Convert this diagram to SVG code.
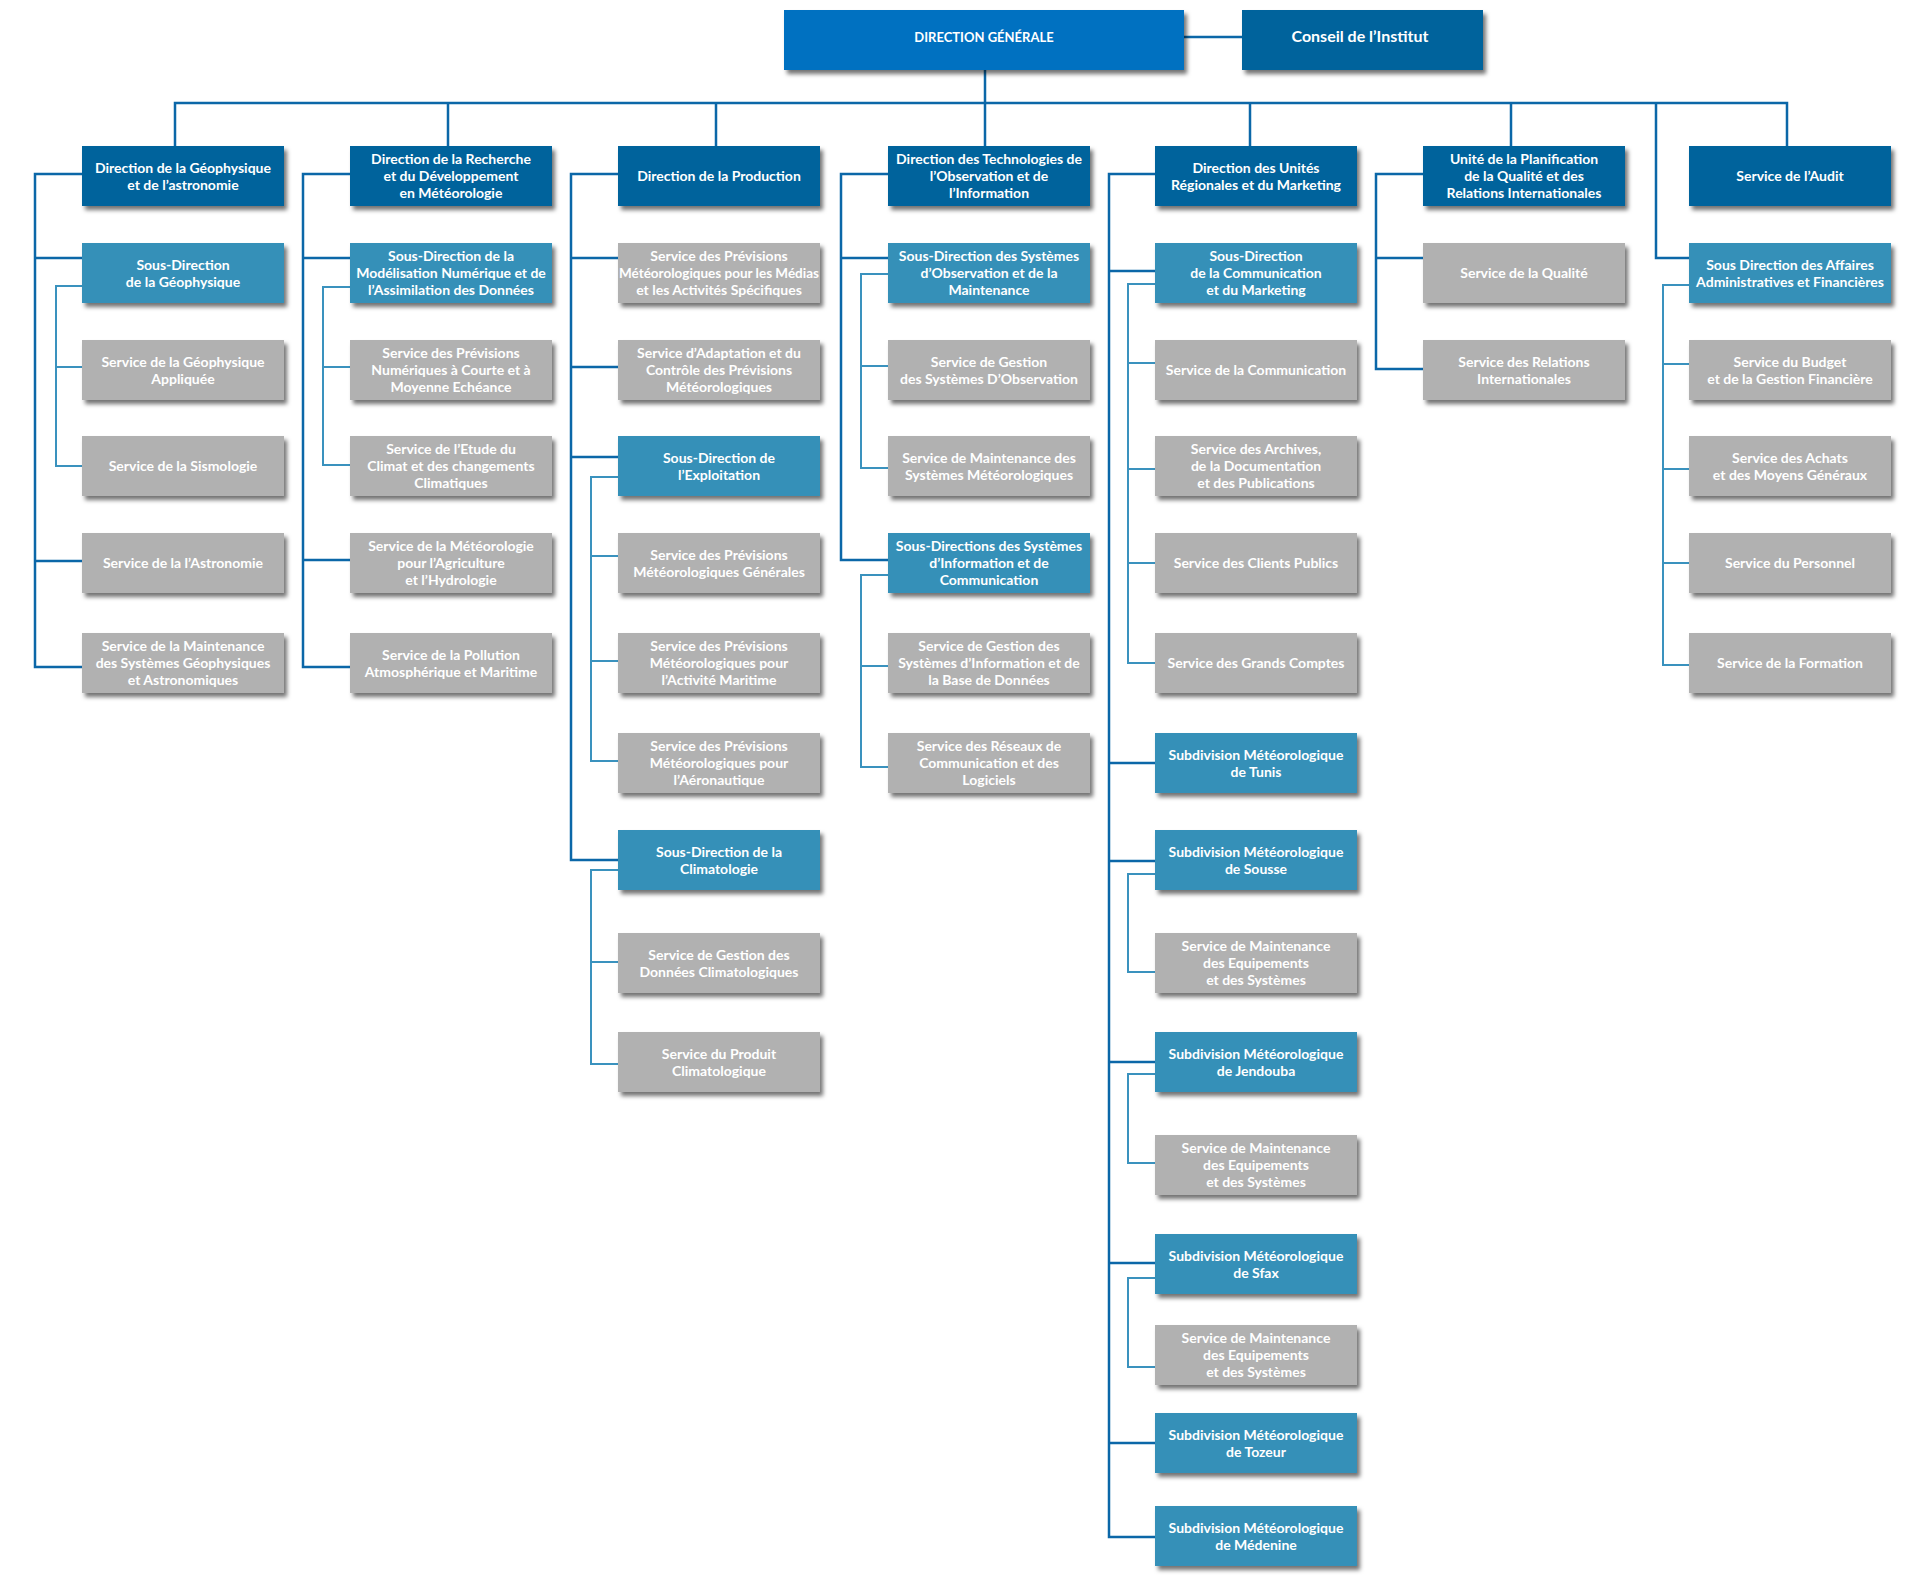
<svg xmlns="http://www.w3.org/2000/svg" width="1920" height="1594" viewBox="0 0 1920 1594">
<defs>
<filter id="sh" x="-10%" y="-20%" width="130%" height="160%">
<feDropShadow dx="3" dy="4" stdDeviation="2" flood-color="#000" flood-opacity="0.55"/>
</filter>
<style>
rect{filter:url(#sh)}
.dg rect{fill:#0071c1}
.d rect{fill:#00639c}
.s rect{fill:#3590b8}
.g rect{fill:#b1b1b1}
text{font-family:Lato,"Open Sans","Liberation Sans",sans-serif;font-weight:700;font-size:14px;fill:#fff;text-anchor:middle}
.m{stroke:#0b67a8;stroke-width:2.5;fill:none}
.b{stroke:#3a92be;stroke-width:2;fill:none}
</style>
</defs>
<rect width="1920" height="1594" fill="#fff" style="filter:none"/>
<g id="connectors">
<path class="m" d="M175,146 V103 H1787 V146 M448,103 V146 M716,103 V146 M985,70 V146 M1250,103 V146 M1511,103 V146 M1184,37 H1242 M1656,103 V258 H1689"/>
<path class="m" d="M82,174 H35 V667 H82 M35,258 H82 M35,561 H82"/>
<path class="b" d="M82,286 H56 V466 H82 M56,367 H82"/>
<path class="m" d="M350,174 H303 V667 H350 M303,258 H350 M303,560 H350"/>
<path class="b" d="M350,287 H323 V465 H350 M323,367 H350"/>
<path class="m" d="M618,174 H571 V860 H618 M571,258 H618 M571,367 H618 M571,457 H618"/>
<path class="b" d="M618,477 H591 V761 H618 M591,556 H618 M591,661 H618"/>
<path class="b" d="M618,870 H591 V1064 H618 M591,962 H618"/>
<path class="m" d="M888,174 H841 V560 H888 M841,258 H888"/>
<path class="b" d="M888,274 H861 V468 H888 M861,366 H888"/>
<path class="b" d="M888,575 H861 V767 H888 M861,666 H888"/>
<path class="m" d="M1155,174 H1109 V1537 H1155 M1109,271 H1155 M1109,763 H1155 M1109,861 H1155 M1109,1062 H1155 M1109,1263 H1155 M1109,1443 H1155"/>
<path class="b" d="M1155,284 H1128 V663 H1155 M1128,363 H1155 M1128,469 H1155 M1128,563 H1155"/>
<path class="b" d="M1155,874 H1128 V972 H1155"/>
<path class="b" d="M1155,1074 H1128 V1163 H1155"/>
<path class="b" d="M1155,1278 H1128 V1367 H1155"/>
<path class="m" d="M1423,174 H1376 V369 H1423 M1376,258 H1423"/>
<path class="b" d="M1689,285 H1663 V665 H1689 M1663,364 H1689 M1663,469 H1689 M1663,563 H1689"/>
</g>

<g id="n-dg" class="dg"><rect x="784" y="10" width="400" height="60"/><text x="984" y="42" style="font-size:13px">DIRECTION GÉNÉRALE</text></g>
<g id="n-conseil" class="d"><rect x="1242" y="10" width="241" height="60"/><text x="1360" y="42" style="font-size:16px">Conseil de l’Institut</text></g>

<!-- Column 1 -->
<g id="n-c1-0" class="d"><rect x="82" y="146" width="202" height="60"/><text x="183" y="172.5">Direction de la Géophysique</text><text x="183" y="189.5">et de l’astronomie</text></g>
<g id="n-c1-1" class="s"><rect x="82" y="243" width="202" height="60"/><text x="183" y="269.5">Sous-Direction</text><text x="183" y="286.5">de la Géophysique</text></g>
<g id="n-c1-2" class="g"><rect x="82" y="340" width="202" height="60"/><text x="183" y="366.5">Service de la Géophysique</text><text x="183" y="383.5">Appliquée</text></g>
<g id="n-c1-3" class="g"><rect x="82" y="436" width="202" height="60"/><text x="183" y="471">Service de la Sismologie</text></g>
<g id="n-c1-4" class="g"><rect x="82" y="533" width="202" height="60"/><text x="183" y="568">Service de la l’Astronomie</text></g>
<g id="n-c1-5" class="g"><rect x="82" y="633" width="202" height="60"/><text x="183" y="651">Service de la Maintenance</text><text x="183" y="668">des Systèmes Géophysiques</text><text x="183" y="685">et Astronomiques</text></g>

<!-- Column 2 -->
<g id="n-c2-0" class="d"><rect x="350" y="146" width="202" height="60"/><text x="451" y="164">Direction de la Recherche</text><text x="451" y="181">et du Développement</text><text x="451" y="198">en Météorologie</text></g>
<g id="n-c2-1" class="s"><rect x="350" y="243" width="202" height="60"/><text x="451" y="261">Sous-Direction de la</text><text x="451" y="278">Modélisation Numérique et de</text><text x="451" y="295">l’Assimilation des Données</text></g>
<g id="n-c2-2" class="g"><rect x="350" y="340" width="202" height="60"/><text x="451" y="358">Service des Prévisions</text><text x="451" y="375">Numériques à Courte et à</text><text x="451" y="392">Moyenne Echéance</text></g>
<g id="n-c2-3" class="g"><rect x="350" y="436" width="202" height="60"/><text x="451" y="454">Service de l’Etude du</text><text x="451" y="471">Climat et des changements</text><text x="451" y="488">Climatiques</text></g>
<g id="n-c2-4" class="g"><rect x="350" y="533" width="202" height="60"/><text x="451" y="551">Service de la Météorologie</text><text x="451" y="568">pour l’Agriculture</text><text x="451" y="585">et l’Hydrologie</text></g>
<g id="n-c2-5" class="g"><rect x="350" y="633" width="202" height="60"/><text x="451" y="659.5">Service de la Pollution</text><text x="451" y="676.5">Atmosphérique et Maritime</text></g>

<!-- Column 3 -->
<g id="n-c3-0" class="d"><rect x="618" y="146" width="202" height="60"/><text x="719" y="181">Direction de la Production</text></g>
<g id="n-c3-1" class="g"><rect x="618" y="243" width="202" height="60"/><text x="719" y="261">Service des Prévisions</text><text x="719" y="278" style="font-size:13.5px">Météorologiques pour les Médias</text><text x="719" y="295">et les Activités Spécifiques</text></g>
<g id="n-c3-2" class="g"><rect x="618" y="340" width="202" height="60"/><text x="719" y="358">Service d’Adaptation et du</text><text x="719" y="375">Contrôle des Prévisions</text><text x="719" y="392">Météorologiques</text></g>
<g id="n-c3-3" class="s"><rect x="618" y="436" width="202" height="60"/><text x="719" y="462.5">Sous-Direction de</text><text x="719" y="479.5">l’Exploitation</text></g>
<g id="n-c3-4" class="g"><rect x="618" y="533" width="202" height="60"/><text x="719" y="559.5">Service des Prévisions</text><text x="719" y="576.5">Météorologiques Générales</text></g>
<g id="n-c3-5" class="g"><rect x="618" y="633" width="202" height="60"/><text x="719" y="651">Service des Prévisions</text><text x="719" y="668">Météorologiques pour</text><text x="719" y="685">l’Activité Maritime</text></g>
<g id="n-c3-6" class="g"><rect x="618" y="733" width="202" height="60"/><text x="719" y="751">Service des Prévisions</text><text x="719" y="768">Météorologiques pour</text><text x="719" y="785">l’Aéronautique</text></g>
<g id="n-c3-7" class="s"><rect x="618" y="830" width="202" height="60"/><text x="719" y="856.5">Sous-Direction de la</text><text x="719" y="873.5">Climatologie</text></g>
<g id="n-c3-8" class="g"><rect x="618" y="933" width="202" height="60"/><text x="719" y="959.5">Service de Gestion des</text><text x="719" y="976.5">Données Climatologiques</text></g>
<g id="n-c3-9" class="g"><rect x="618" y="1032" width="202" height="60"/><text x="719" y="1058.5">Service du Produit</text><text x="719" y="1075.5">Climatologique</text></g>

<!-- Column 4 -->
<g id="n-c4-0" class="d"><rect x="888" y="146" width="202" height="60"/><text x="989" y="164">Direction des Technologies de</text><text x="989" y="181">l’Observation et de</text><text x="989" y="198">l’Information</text></g>
<g id="n-c4-1" class="s"><rect x="888" y="243" width="202" height="60"/><text x="989" y="261">Sous-Direction des Systèmes</text><text x="989" y="278">d’Observation et de la</text><text x="989" y="295">Maintenance</text></g>
<g id="n-c4-2" class="g"><rect x="888" y="340" width="202" height="60"/><text x="989" y="366.5">Service de Gestion</text><text x="989" y="383.5">des Systèmes D’Observation</text></g>
<g id="n-c4-3" class="g"><rect x="888" y="436" width="202" height="60"/><text x="989" y="462.5">Service de Maintenance des</text><text x="989" y="479.5">Systèmes Météorologiques</text></g>
<g id="n-c4-4" class="s"><rect x="888" y="533" width="202" height="60"/><text x="989" y="551">Sous-Directions des Systèmes</text><text x="989" y="568">d’Information et de</text><text x="989" y="585">Communication</text></g>
<g id="n-c4-5" class="g"><rect x="888" y="633" width="202" height="60"/><text x="989" y="651">Service de Gestion des</text><text x="989" y="668">Systèmes d’Information et de</text><text x="989" y="685">la Base de Données</text></g>
<g id="n-c4-6" class="g"><rect x="888" y="733" width="202" height="60"/><text x="989" y="751">Service des Réseaux de</text><text x="989" y="768">Communication et des</text><text x="989" y="785">Logiciels</text></g>

<!-- Column 5 -->
<g id="n-c5-0" class="d"><rect x="1155" y="146" width="202" height="60"/><text x="1256" y="172.5">Direction des Unités</text><text x="1256" y="189.5">Régionales et du Marketing</text></g>
<g id="n-c5-1" class="s"><rect x="1155" y="243" width="202" height="60"/><text x="1256" y="261">Sous-Direction</text><text x="1256" y="278">de la Communication</text><text x="1256" y="295">et du Marketing</text></g>
<g id="n-c5-2" class="g"><rect x="1155" y="340" width="202" height="60"/><text x="1256" y="375">Service de la Communication</text></g>
<g id="n-c5-3" class="g"><rect x="1155" y="436" width="202" height="60"/><text x="1256" y="454">Service des Archives,</text><text x="1256" y="471">de la Documentation</text><text x="1256" y="488">et des Publications</text></g>
<g id="n-c5-4" class="g"><rect x="1155" y="533" width="202" height="60"/><text x="1256" y="568">Service des Clients Publics</text></g>
<g id="n-c5-5" class="g"><rect x="1155" y="633" width="202" height="60"/><text x="1256" y="668">Service des Grands Comptes</text></g>
<g id="n-c5-6" class="s"><rect x="1155" y="733" width="202" height="60"/><text x="1256" y="759.5">Subdivision Météorologique</text><text x="1256" y="776.5">de Tunis</text></g>
<g id="n-c5-7" class="s"><rect x="1155" y="830" width="202" height="60"/><text x="1256" y="856.5">Subdivision Météorologique</text><text x="1256" y="873.5">de Sousse</text></g>
<g id="n-c5-8" class="g"><rect x="1155" y="933" width="202" height="60"/><text x="1256" y="951">Service de Maintenance</text><text x="1256" y="968">des Equipements</text><text x="1256" y="985">et des Systèmes</text></g>
<g id="n-c5-9" class="s"><rect x="1155" y="1032" width="202" height="60"/><text x="1256" y="1058.5">Subdivision Météorologique</text><text x="1256" y="1075.5">de Jendouba</text></g>
<g id="n-c5-10" class="g"><rect x="1155" y="1135" width="202" height="60"/><text x="1256" y="1153">Service de Maintenance</text><text x="1256" y="1170">des Equipements</text><text x="1256" y="1187">et des Systèmes</text></g>
<g id="n-c5-11" class="s"><rect x="1155" y="1234" width="202" height="60"/><text x="1256" y="1260.5">Subdivision Météorologique</text><text x="1256" y="1277.5">de Sfax</text></g>
<g id="n-c5-12" class="g"><rect x="1155" y="1325" width="202" height="60"/><text x="1256" y="1343">Service de Maintenance</text><text x="1256" y="1360">des Equipements</text><text x="1256" y="1377">et des Systèmes</text></g>
<g id="n-c5-13" class="s"><rect x="1155" y="1413" width="202" height="60"/><text x="1256" y="1439.5">Subdivision Météorologique</text><text x="1256" y="1456.5">de Tozeur</text></g>
<g id="n-c5-14" class="s"><rect x="1155" y="1506" width="202" height="60"/><text x="1256" y="1532.5">Subdivision Météorologique</text><text x="1256" y="1549.5">de Médenine</text></g>

<!-- Column 6 -->
<g id="n-c6-0" class="d"><rect x="1423" y="146" width="202" height="60"/><text x="1524" y="164">Unité de la Planification</text><text x="1524" y="181">de la Qualité et des</text><text x="1524" y="198">Relations Internationales</text></g>
<g id="n-c6-1" class="g"><rect x="1423" y="243" width="202" height="60"/><text x="1524" y="278">Service de la Qualité</text></g>
<g id="n-c6-2" class="g"><rect x="1423" y="340" width="202" height="60"/><text x="1524" y="366.5">Service des Relations</text><text x="1524" y="383.5">Internationales</text></g>

<!-- Column 7 -->
<g id="n-c7-0" class="d"><rect x="1689" y="146" width="202" height="60"/><text x="1790" y="181">Service de l’Audit</text></g>
<g id="n-c7-1" class="s"><rect x="1689" y="243" width="202" height="60"/><text x="1790" y="269.5">Sous Direction des Affaires</text><text x="1790" y="286.5">Administratives et Financières</text></g>
<g id="n-c7-2" class="g"><rect x="1689" y="340" width="202" height="60"/><text x="1790" y="366.5">Service du Budget</text><text x="1790" y="383.5">et de la Gestion Financière</text></g>
<g id="n-c7-3" class="g"><rect x="1689" y="436" width="202" height="60"/><text x="1790" y="462.5">Service des Achats</text><text x="1790" y="479.5">et des Moyens Généraux</text></g>
<g id="n-c7-4" class="g"><rect x="1689" y="533" width="202" height="60"/><text x="1790" y="568">Service du Personnel</text></g>
<g id="n-c7-5" class="g"><rect x="1689" y="633" width="202" height="60"/><text x="1790" y="668">Service de la Formation</text></g>
</svg>
